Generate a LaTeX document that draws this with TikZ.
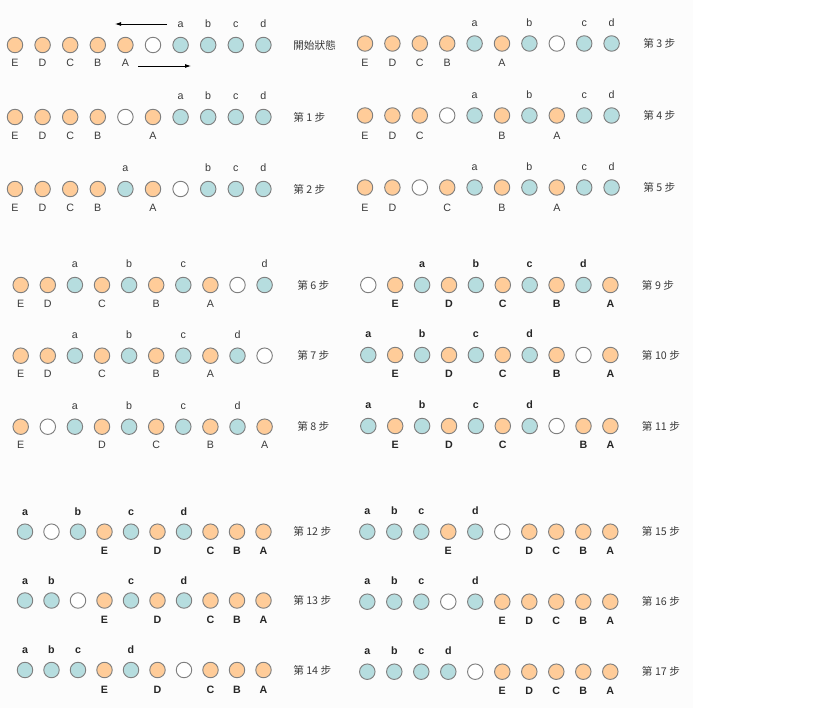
\documentclass[tikz,border=0pt]{standalone}
\usepackage{fontspec}
\setmainfont{Liberation Sans}
\newfontfamily\cjk{Noto Sans CJK TC}
\usetikzlibrary{arrows.meta}
\definecolor{orangefill}{HTML}{FFCC99}
\definecolor{tealfill}{HTML}{B6DDDF}
\definecolor{ballline}{HTML}{7F7F7F}
\definecolor{labgray}{HTML}{3A3A3A}
\definecolor{panelbg}{HTML}{FCFCFC}
\tikzset{
  ball/.style={circle,draw=ballline,line width=0.7pt,minimum size=15.5*0.75pt,inner sep=0pt},
  oball/.style={ball,fill=orangefill},
  tball/.style={ball,fill=tealfill},
  nball/.style={ball,fill=white},
  lab/.style={anchor=base,inner sep=0pt,font=\fontsize{8}{9}\selectfont,text=labgray},
  steplab/.style={anchor=west,inner sep=0pt,font=\cjk\fontsize{8}{9}\selectfont,text=labgray},
  arr/.style={-{Latex[length=4.5pt,width=3pt]},line width=0.6pt,black}
}
% #1 id, #2 x0, #3 dx, #4 y, #5 step label x, #6 step text, #7 sequence
\newcommand\myrow[7]{%
  \foreach \k/\l [count=\i] in {#7} {%
    \pgfmathsetmacro\xx{#2+(\i-1)*#3}%
    \if\k o
      \node[oball] (#1c\i) at (\xx,#4) {};
      \node[lab] (#1l\i) at (\xx,#4+\ub) {\l};
    \else\if\k t
      \node[tball] (#1c\i) at (\xx,#4) {};
      \node[lab] (#1l\i) at (\xx,#4+\ua) {\l};
    \else
      \node[nball] (#1c\i) at (\xx,#4) {};
    \fi\fi
  }
  \node[steplab] (#1s) at (#5,#4) {#6};
}
\begin{document}
\begin{tikzpicture}[x=0.75pt,y=-0.75pt]
\useasboundingbox (0,0) rectangle (817,717);
\fill[white] (0,0) rectangle (817,717);
\fill[panelbg] (0,0) rectangle (693,708);

% Panel 1
\def\ua{-17.5}\def\ub{22}
\myrow{rA}{15}{27.6}{45}{293}{開始狀態}{o/E,o/D,o/C,o/B,o/A,n/x,t/a,t/b,t/c,t/d}
\myrow{rB}{15}{27.6}{117}{293}{第 1 步}{o/E,o/D,o/C,o/B,n/x,o/A,t/a,t/b,t/c,t/d}
\myrow{rC}{15}{27.6}{189}{293}{第 2 步}{o/E,o/D,o/C,o/B,t/a,o/A,n/x,t/b,t/c,t/d}
\coordinate (arrTopS) at (167,24);
\coordinate (arrTopE) at (115,24);
\coordinate (arrBotS) at (138,66);
\coordinate (arrBotE) at (191,66);
\draw[arr] (arrTopS) -- (arrTopE);
\draw[arr] (arrBotS) -- (arrBotE);

% Panel 2
\def\ua{-17}\def\ub{23.5}
\myrow{rD}{365}{27.4}{43.5}{643}{第 3 步}{o/E,o/D,o/C,o/B,t/a,o/A,t/b,n/x,t/c,t/d}
\myrow{rE}{365}{27.4}{115.5}{643}{第 4 步}{o/E,o/D,o/C,n/x,t/a,o/B,t/b,o/A,t/c,t/d}
\myrow{rF}{365}{27.4}{187.5}{643}{第 5 步}{o/E,o/D,n/x,o/C,t/a,o/B,t/b,o/A,t/c,t/d}

% Panel 3
\def\ua{-17.5}\def\ub{22}
\myrow{rG}{20.7}{27.1}{285}{297}{第 6 步}{o/E,o/D,t/a,o/C,t/b,o/B,t/c,o/A,n/x,t/d}
\myrow{rH}{20.7}{27.1}{355.7}{297}{第 7 步}{o/E,o/D,t/a,o/C,t/b,o/B,t/c,o/A,t/d,n/x}
\myrow{rI}{20.7}{27.1}{426.7}{297}{第 8 步}{o/E,n/x,t/a,o/D,t/b,o/C,t/c,o/B,t/d,o/A}

% Panels 4-6: bold labels
\begin{scope}[lab/.append style={font=\fontsize{8}{9}\selectfont\bfseries,text=black!85}]
\def\ua{-17.5}\def\ub{22}
\myrow{rJ}{368.3}{26.9}{285}{641.7}{第 9 步}{n/x,o/E,t/a,o/D,t/b,o/C,t/c,o/B,t/d,o/A}
\myrow{rK}{368.3}{26.9}{355}{641.7}{第 10 步}{t/a,o/E,t/b,o/D,t/c,o/C,t/d,o/B,n/x,o/A}
\myrow{rL}{368.3}{26.9}{426}{641.7}{第 11 步}{t/a,o/E,t/b,o/D,t/c,o/C,t/d,n/x,o/B,o/A}

\def\ua{-16.5}\def\ub{23}
\myrow{rM}{25}{26.5}{531.7}{293}{第 12 步}{t/a,n/x,t/b,o/E,t/c,o/D,t/d,o/C,o/B,o/A}
\myrow{rN}{25}{26.5}{600.5}{293}{第 13 步}{t/a,t/b,n/x,o/E,t/c,o/D,t/d,o/C,o/B,o/A}
\myrow{rO}{25}{26.5}{670}{293}{第 14 步}{t/a,t/b,t/c,o/E,t/d,o/D,n/x,o/C,o/B,o/A}

\def\ua{-17.5}\def\ub{23}
\myrow{rP}{367.3}{27.0}{531.7}{641.7}{第 15 步}{t/a,t/b,t/c,o/E,t/d,n/x,o/D,o/C,o/B,o/A}
\myrow{rQ}{367.3}{27.0}{601.7}{641.7}{第 16 步}{t/a,t/b,t/c,n/x,t/d,o/E,o/D,o/C,o/B,o/A}
\myrow{rR}{367.3}{27.0}{671.7}{641.7}{第 17 步}{t/a,t/b,t/c,t/d,n/x,o/E,o/D,o/C,o/B,o/A}
\end{scope}
\end{tikzpicture}
\end{document}
